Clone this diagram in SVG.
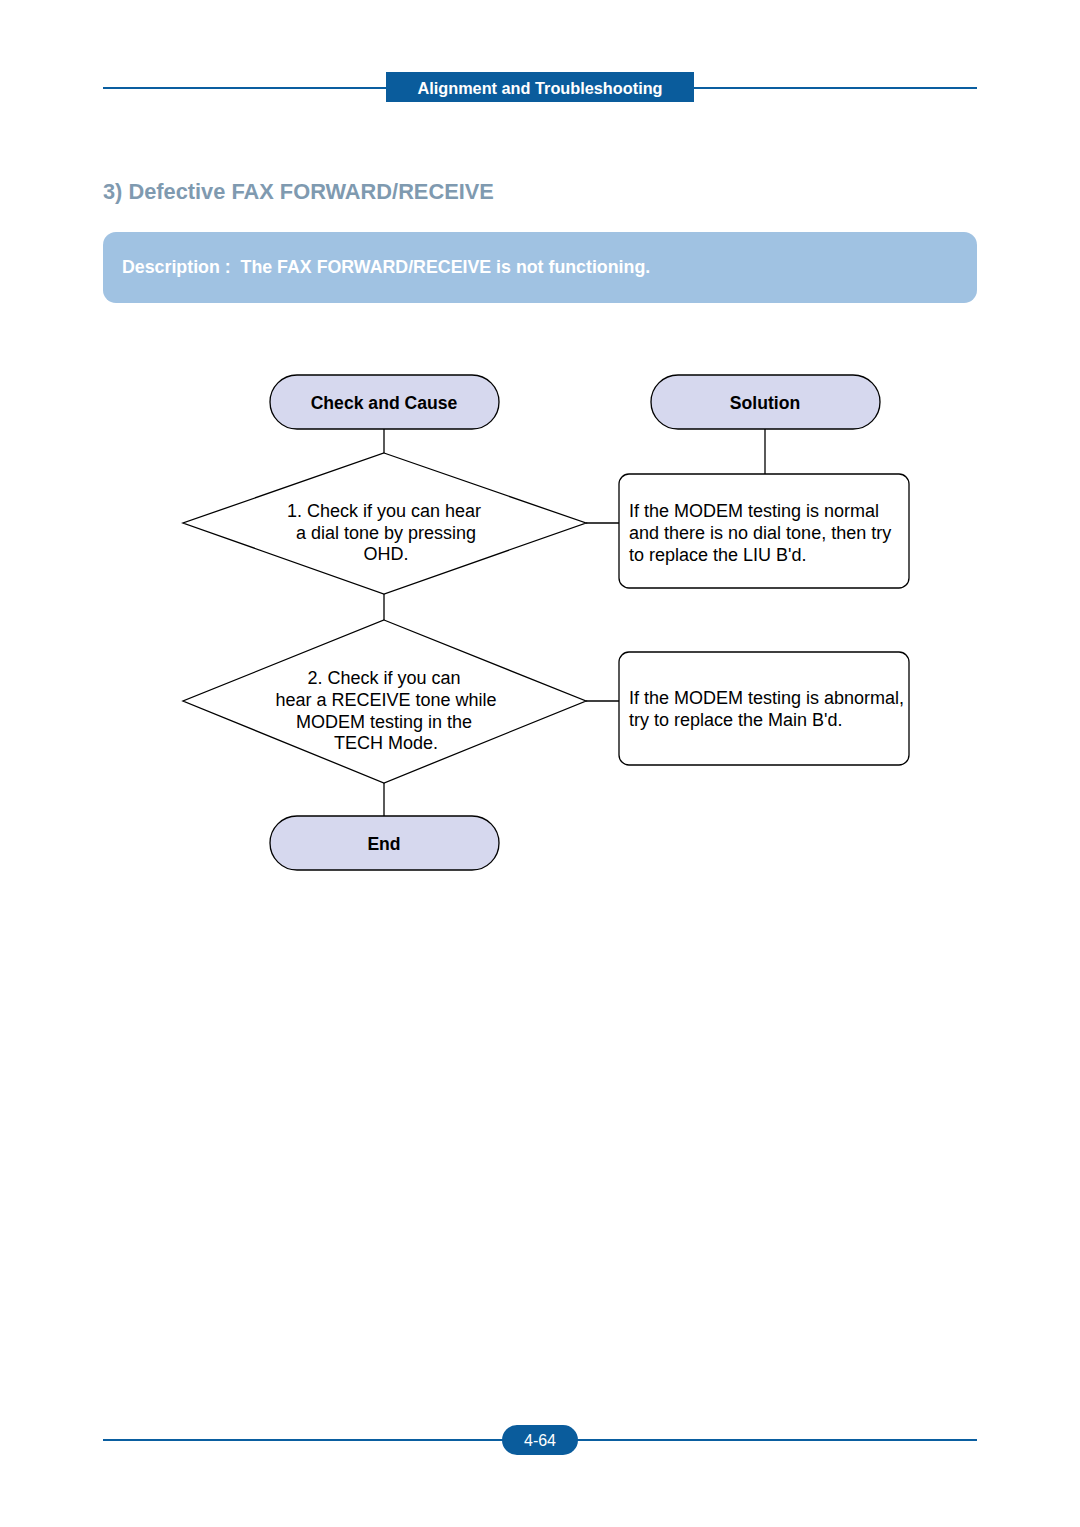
<svg xmlns="http://www.w3.org/2000/svg" width="1080" height="1527" viewBox="0 0 1080 1527">
<style>
.t{font-family:"Liberation Sans",Arial,sans-serif;}
.pill{fill:#d6d8ee;stroke:#000;stroke-width:1.3;}
.shape{fill:#fff;stroke:#000;stroke-width:1.3;}
.con{stroke:#000;stroke-width:1.3;fill:none;}
.lbl{font-family:"Liberation Sans",Arial,sans-serif;font-size:18px;fill:#000;}
.bold{font-weight:bold;font-size:17.6px;}
</style>
<rect width="1080" height="1527" fill="#fff"/>
<g id="header">
<line x1="103" y1="88" x2="977" y2="88" stroke="#0a5ea0" stroke-width="2"/>
<rect x="386" y="72" width="308" height="30" fill="#0a5c9c"/>
<text class="t" x="540" y="94" font-size="16.3" font-weight="bold" fill="#fff" text-anchor="middle">Alignment and Troubleshooting</text>
</g>
<text class="t" x="103" y="199" font-size="21.8" font-weight="bold" fill="#7f9ab0">3) Defective FAX FORWARD/RECEIVE</text>
<g id="description">
<rect x="103" y="232" width="874" height="71" rx="13" fill="#a0c2e2"/>
<text class="t" x="122" y="273" font-size="17.8" font-weight="bold" fill="#fff" xml:space="preserve">Description :  The FAX FORWARD/RECEIVE is not functioning.</text>
</g>
<g id="connectors">
<line class="con" x1="384" y1="429" x2="384" y2="453"/>
<line class="con" x1="765" y1="429" x2="765" y2="474"/>
<line class="con" x1="586" y1="523" x2="619" y2="523"/>
<line class="con" x1="384" y1="594" x2="384" y2="620"/>
<line class="con" x1="586" y1="701" x2="619" y2="701"/>
<line class="con" x1="384" y1="783" x2="384" y2="816"/>
</g>
<g id="check-and-cause">
<rect class="pill" x="270" y="375" width="229" height="54" rx="27"/>
<text class="lbl bold" x="384" y="409" text-anchor="middle">Check and Cause</text>
</g>
<g id="solution">
<rect class="pill" x="651" y="375" width="229" height="54" rx="27"/>
<text class="lbl bold" x="765" y="409" text-anchor="middle">Solution</text>
</g>
<g id="check1">
<polygon class="shape" points="384,453 586,523 384,594 183,523"/>
<text class="lbl" text-anchor="middle"><tspan x="384" y="517">1. Check if you can hear</tspan><tspan x="386" y="539">a dial tone by pressing</tspan><tspan x="386" y="560">OHD.</tspan></text>
</g>
<g id="solution1">
<rect class="shape" x="619" y="474" width="290" height="114" rx="10"/>
<text class="lbl"><tspan x="629" y="517">If the MODEM testing is normal</tspan><tspan x="629" y="539">and there is no dial tone, then try</tspan><tspan x="629" y="561">to replace the LIU B'd.</tspan></text>
</g>
<g id="check2">
<polygon class="shape" points="384,620 586,701 384,783 183,701"/>
<text class="lbl" text-anchor="middle"><tspan x="384" y="684">2. Check if you can</tspan><tspan x="386" y="706">hear a RECEIVE tone while</tspan><tspan x="384" y="728">MODEM testing in the</tspan><tspan x="386" y="749">TECH Mode.</tspan></text>
</g>
<g id="solution2">
<rect class="shape" x="619" y="652" width="290" height="113" rx="10"/>
<text class="lbl"><tspan x="629" y="704">If the MODEM testing is abnormal,</tspan><tspan x="629" y="726">try to replace the Main B'd.</tspan></text>
</g>
<g id="end">
<rect class="pill" x="270" y="816" width="229" height="54" rx="27"/>
<text class="lbl bold" x="384" y="850" text-anchor="middle">End</text>
</g>
<g id="footer">
<line x1="103" y1="1440" x2="977" y2="1440" stroke="#0a5ea0" stroke-width="2"/>
<rect x="502" y="1425" width="76" height="30" rx="15" fill="#0a5c9c"/>
<text class="t" x="540" y="1446" font-size="16" fill="#fff" text-anchor="middle">4-64</text>
</g>
</svg>
